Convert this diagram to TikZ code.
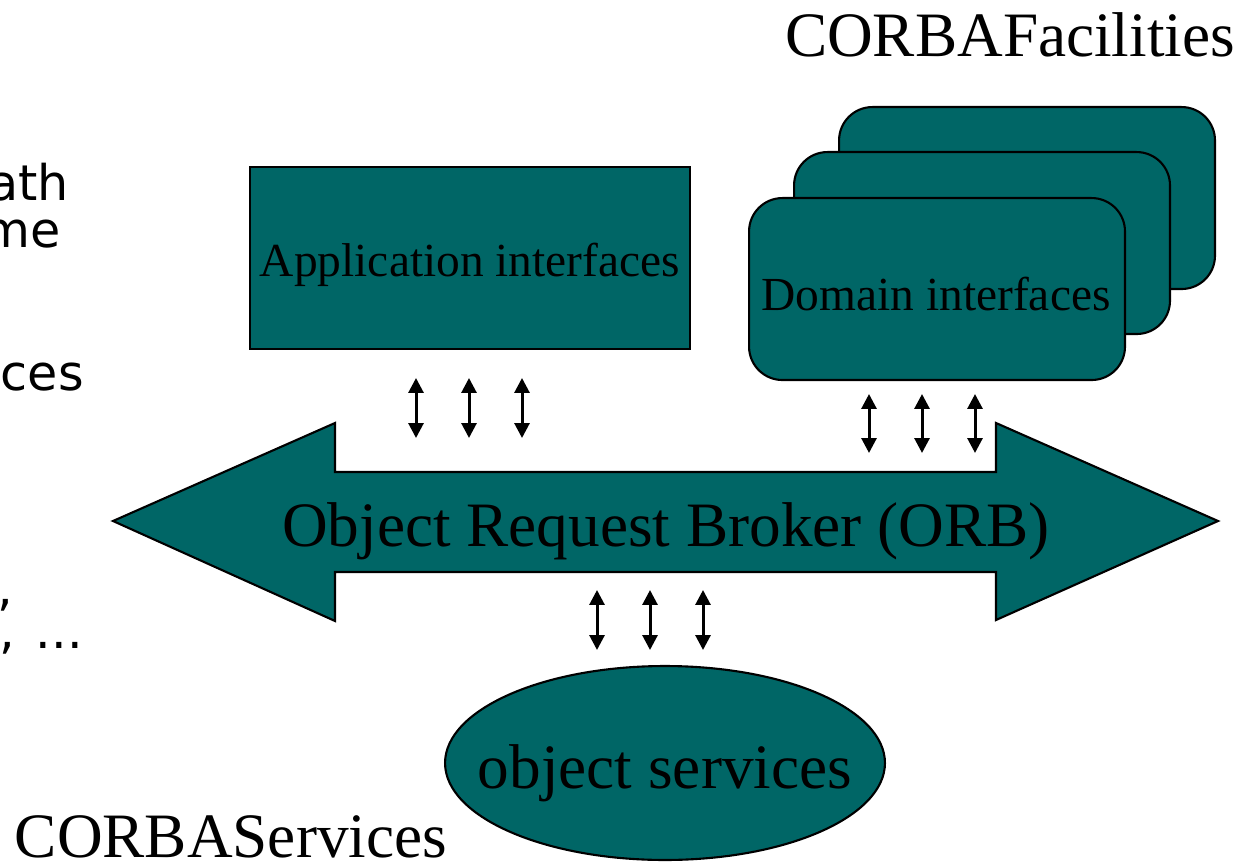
\documentclass[tikz,border=0pt]{standalone}
\usepackage{fontspec}
\setmainfont{Liberation Serif}
\newfontfamily\sidefont{DejaVu Sans}
\usetikzlibrary{arrows.meta,shapes.geometric}
\definecolor{corbateal}{RGB}{0,102,102}

\begin{document}
\begin{tikzpicture}[x=0.02cm,y=-0.02cm,
  panel/.style={draw=black,line width=1.2pt,fill=corbateal,line join=miter},
  bigtext/.style={font=\fontsize{36}{40}\selectfont,inner sep=0pt,anchor=base},
  boxtext/.style={font=\fontsize{27}{30}\selectfont,inner sep=0pt,anchor=base},
  sidetext/.style={font=\sidefont\fontsize{28}{30}\selectfont,inner sep=0pt,anchor=base east},
  domainbox/.style={panel,rectangle,rounded corners=19pt,minimum width=7.52cm,
    minimum height=3.64cm,inner sep=0pt,anchor=north west},
  link/.style={line width=1.7pt,{Triangle[width=8.5pt,length=8.5pt]}-{Triangle[width=8.5pt,length=8.5pt]}}
]
\useasboundingbox (0,0) rectangle (1256,861);

% fragments of the side text, running off the left edge
\node[sidetext] (side1) at (69,201) {ath};
\node[sidetext] (side2) at (61,248) {me};
\node[sidetext] (side3) at (84,390) {ces};
\node[sidetext] (side4) at (13,605) {,};
\node[sidetext] (side5) at (83,648) {,\kern3pt{} ...};

% application interfaces
\node[panel,rectangle,minimum width=8.8cm,minimum height=3.64cm,inner sep=0pt,
  anchor=north west] (app) at (249,166) {};
\node[boxtext] (applbl) at (app.center |- 0,276) {Application interfaces};

% stacked domain interfaces
\node[domainbox] (dom3) at (838,106) {};
\node[domainbox] (dom2) at (793,151) {};
\node[domainbox] (dom1) at (748,197) {};
\node[boxtext] (domlbl) at (936,310) {Domain interfaces};

\node[bigtext] (facil) at (1010,57) {CORBAFacilities};

% the broker: a double-headed block arrow
\draw[panel] (113,521) -- (335,423) -- (335,472) -- (996,472) -- (996,423)
  -- (1218,521) -- (996,620) -- (996,572) -- (335,572) -- (335,621) -- cycle;
\node[bigtext] (orb) at (666,546) {Object Request Broker (ORB)};

% object services
\node[panel,ellipse,minimum width=8.8cm,minimum height=3.88cm,inner sep=0pt]
  (svc) at (665,763) {};
\node[bigtext] (svclbl) at (665,788) {object services};

\node[bigtext] (servs) at (231,857) {CORBAServices};

% request links between the components and the broker
\foreach \i/\x in {1/416,2/469,3/522}{
  \coordinate (ua\i) at (\x,378);
  \coordinate (la\i) at (\x,438);
  \draw[link] (ua\i) -- (la\i);
}
\foreach \i/\x in {1/869,2/922,3/975}{
  \coordinate (ud\i) at (\x,394);
  \coordinate (ld\i) at (\x,453);
  \draw[link] (ud\i) -- (ld\i);
}
\foreach \i/\x in {1/597,2/650,3/703}{
  \coordinate (us\i) at (\x,590);
  \coordinate (ls\i) at (\x,650);
  \draw[link] (us\i) -- (ls\i);
}
\end{tikzpicture}
\end{document}
